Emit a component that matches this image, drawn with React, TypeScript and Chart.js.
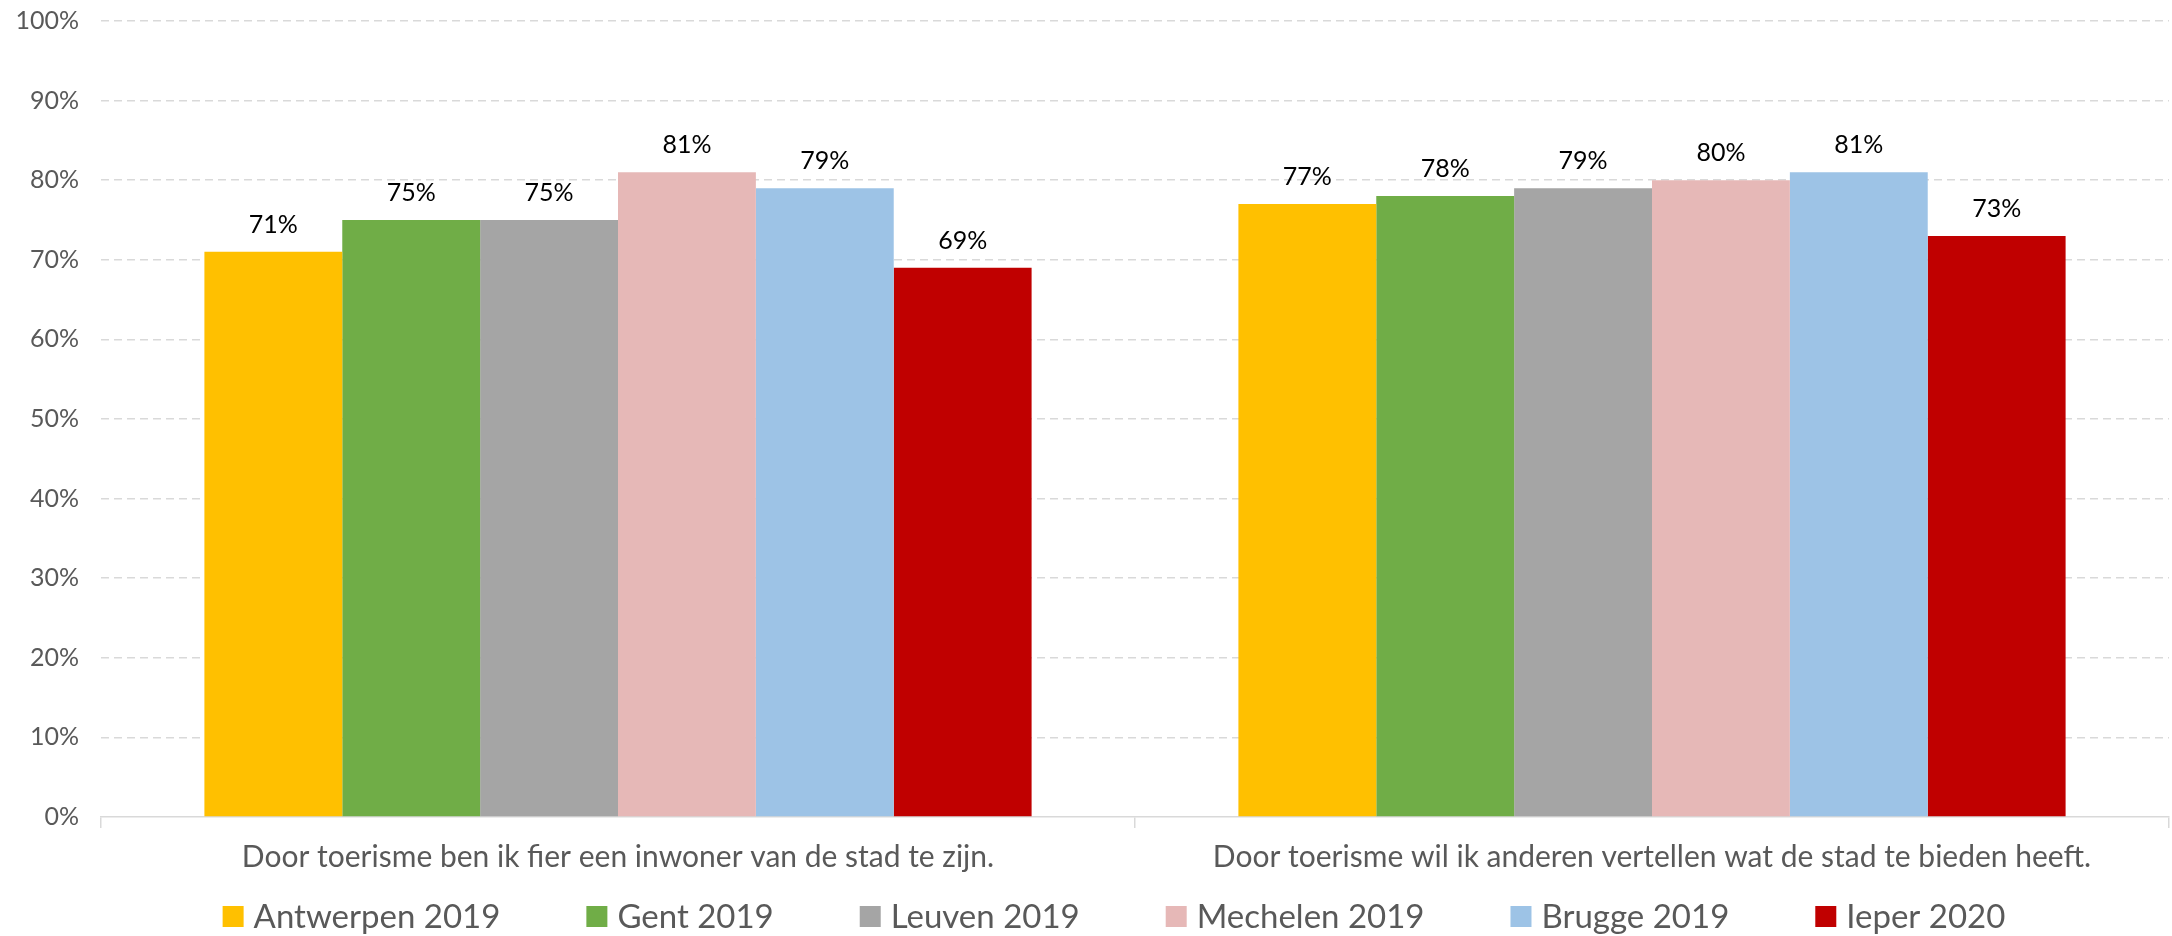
import React, { useEffect, useRef } from "react";
import { Chart, registerables } from "chart.js";

Chart.register(...registerables);

const categories = [
  "Door toerisme ben ik fier een inwoner van de stad te zijn.",
  "Door toerisme wil ik anderen vertellen wat de stad te bieden heeft.",
];
const seriesNames = ["Antwerpen 2019", "Gent 2019", "Leuven 2019", "Mechelen 2019", "Brugge 2019", "Ieper 2020"];
const antwerpen2019 = [71, 77];
const gent2019 = [75, 78];
const leuven2019 = [75, 79];
const mechelen2019 = [81, 80];
const brugge2019 = [79, 81];
const ieper2020 = [69, 73];
const seriesValues = [antwerpen2019, gent2019, leuven2019, mechelen2019, brugge2019, ieper2020];
const seriesColors = ["#FFC000", "#70AD47", "#A5A5A5", "#E6B8B7", "#9DC3E6", "#C00000"];
const yMin = 0;
const yMax = 100;
const yStep = 10;

const FONT = "Lato, 'Open Sans', sans-serif";

const valueLabels = {
  id: "valueLabels",
  afterDatasetsDraw(chart: any) {
    const ctx = chart.ctx;
    ctx.save();
    ctx.font = `25px ${FONT}`;
    ctx.fillStyle = "#000000";
    ctx.textAlign = "center";
    ctx.textBaseline = "alphabetic";
    chart.data.datasets.forEach((ds: any, i: number) => {
      const meta = chart.getDatasetMeta(i);
      meta.data.forEach((el: any, j: number) => {
        ctx.fillText(`${ds.data[j]}%`, el.x, el.y - 19);
      });
    });
    ctx.restore();
  },
};

const customLegend = {
  id: "customLegend",
  afterDraw(chart: any) {
    const ctx = chart.ctx;
    ctx.save();
    ctx.font = `33px ${FONT}`;
    const box = 21;
    const boxGap = 10;
    const itemGap = 86;
    const items = chart.data.datasets.map((ds: any) => ({
      label: ds.label,
      color: ds.backgroundColor,
      w: ctx.measureText(ds.label).width,
    }));
    const total = items.reduce((s: number, it: any) => s + box + boxGap + it.w, 0) + itemGap * (items.length - 1);
    let x = 1114 - total / 2;
    const baseline = 928;
    items.forEach((it: any) => {
      ctx.fillStyle = it.color;
      ctx.fillRect(x, baseline - 22, box, box);
      ctx.fillStyle = "#595959";
      ctx.textAlign = "left";
      ctx.textBaseline = "alphabetic";
      ctx.fillText(it.label, x + box + boxGap, baseline);
      x += box + boxGap + it.w + itemGap;
    });
    ctx.restore();
  },
};

export default function App() {
  const canvasRef = useRef<HTMLCanvasElement | null>(null);

  useEffect(() => {
    document.body.style.margin = "0";
    const canvas = canvasRef.current;
    if (!canvas) return;
    const chart = new Chart(canvas, {
      type: "bar",
      data: {
        labels: categories,
        datasets: seriesNames.map((name, i) => ({
          label: name,
          data: seriesValues[i],
          backgroundColor: seriesColors[i],
          borderWidth: 0,
          categoryPercentage: 0.8,
          barPercentage: 1.0,
        })),
      },
      options: {
        responsive: false,
        animation: false,
        layout: { padding: { top: 21, right: 3, bottom: 59, left: 0 } },
        plugins: {
          legend: { display: false },
          tooltip: { enabled: false },
        },
        scales: {
          x: {
            afterFit: (scale: any) => {
              scale.height = 60;
              scale.paddingLeft = 0;
              scale.paddingRight = 0;
            },
            grid: {
              display: true,
              drawOnChartArea: false,
              drawTicks: true,
              tickLength: 11,
              color: "#D9D9D9",
              lineWidth: 1.5,
              offset: true,
            },
            border: { display: true, color: "#D9D9D9", width: 1.5 },
            ticks: {
              color: "#595959",
              font: { family: FONT, size: 30 },
              padding: 11,
              maxRotation: 0,
              autoSkip: false,
            },
          },
          y: {
            min: yMin,
            max: yMax,
            afterFit: (scale: any) => {
              scale.width = 101;
              scale.paddingTop = 0;
              scale.paddingBottom = 0;
            },
            grid: {
              drawTicks: false,
              color: (c: any) => (c.tick && c.tick.value === 0 ? "rgba(0,0,0,0)" : "#D9D9D9"),
              lineWidth: 1.5,
            },
            border: { display: false, dash: [8, 5] },
            ticks: {
              stepSize: yStep,
              color: "#595959",
              font: { family: FONT, size: 25 },
              padding: 22,
              callback: (v: any) => `${v}%`,
            },
          },
        },
      },
      plugins: [valueLabels, customLegend],
    });
    return () => chart.destroy();
  }, []);

  return (
    <div style={{ width: 2172, height: 936, position: "relative" }}>
      <canvas ref={canvasRef} width={2172} height={936} style={{ display: "block" }} />
    </div>
  );
}
